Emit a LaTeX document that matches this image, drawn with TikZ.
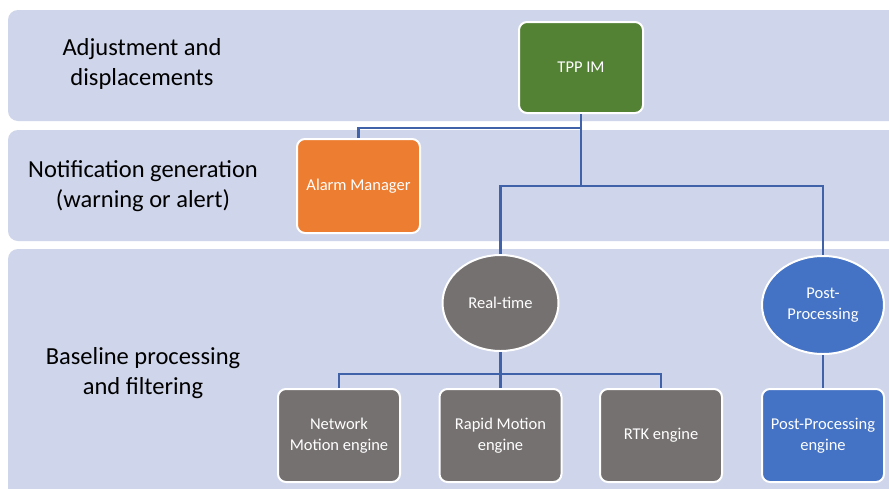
\documentclass[tikz,border=0pt]{standalone}
\usepackage{fontspec}
\setmainfont{Carlito}
\usetikzlibrary{shapes.geometric}
\definecolor{band}{HTML}{CFD5EA}
\definecolor{tppgreen}{HTML}{548235}
\definecolor{alarmorange}{HTML}{ED7D31}
\definecolor{enggrey}{HTML}{767171}
\definecolor{ppblue}{HTML}{4472C4}
\definecolor{linkblue}{HTML}{3F62A8}
\tikzset{
  bandbox/.style={fill=band, draw=none, rounded corners=10pt},
  bandlabel/.style={align=center, font=\fontsize{24.5}{30}\selectfont, text=black},
  blockbox/.style={draw=white, line width=2pt, rounded corners=8pt, text=white, align=center,
    minimum width=122pt, minimum height=93pt, inner sep=2pt, font=\fontsize{16.5}{20.5}\selectfont},
  ovalbox/.style={ellipse, draw=white, line width=2pt, text=white, align=center,
    inner sep=0pt, font=\fontsize{16.5}{20.5}\selectfont},
  link/.style={draw=linkblue, line width=2.3pt}
}
\begin{document}
\begin{tikzpicture}[x=1pt,y=-1pt]
\useasboundingbox (0,0) rectangle (889,488);
\clip (0,0) rectangle (889,488);
\fill[white] (0,0) rectangle (889,488);
% bands
\path[bandbox] (8,10) rectangle (905,121);
\path[bandbox] (8,130) rectangle (905,241);
\path[bandbox] (8,249) rectangle (905,505);
% band labels
\node[bandlabel] (l1) at (142,64) {Adjustment and\\displacements};
\node[bandlabel] (l2) at (143,186) {Notification generation\\(warning or alert)};
\node[bandlabel] (l3) at (143,373) {Baseline processing\\and filtering};
% nodes
\node[blockbox, fill=tppgreen, minimum width=124pt, minimum height=91pt] (tpp) at (581,67.5) {TPP IM};
\node[blockbox, fill=alarmorange, minimum width=123pt, minimum height=94pt] (alarm) at (358.5,186) {Alarm Manager};
\node[ovalbox, fill=enggrey, minimum width=116pt, minimum height=96pt] (rt) at (500.5,303) {Real-time};
\node[ovalbox, fill=ppblue, minimum width=122pt, minimum height=98pt] (pp) at (823,305) {Post-\\Processing};
\node[blockbox, fill=enggrey] (nme) at (339,435.5) {Network\\Motion engine};
\node[blockbox, fill=enggrey] (rme) at (500.5,435.5) {Rapid Motion\\engine};
\node[blockbox, fill=enggrey] (rtk) at (661,435.5) {RTK engine};
\node[blockbox, fill=ppblue] (ppe) at (823,435.5) {Post-Processing\\engine};
% connectors
\draw[link] (tpp.south) -- ++(0,14) -| (alarm.north);
\draw[link] (tpp.south) -- ++(0,72) coordinate (j2) -| (rt.north);
\draw[link] (j2) -| (pp.north);
\draw[link] (rt.south) -- ++(0,22) coordinate (j3) -| (nme.north);
\draw[link] (j3) -| (rtk.north);
\draw[link] (j3) -- (rme.north);
\draw[link] (pp.south) -- (ppe.north);
\end{tikzpicture}
\end{document}
